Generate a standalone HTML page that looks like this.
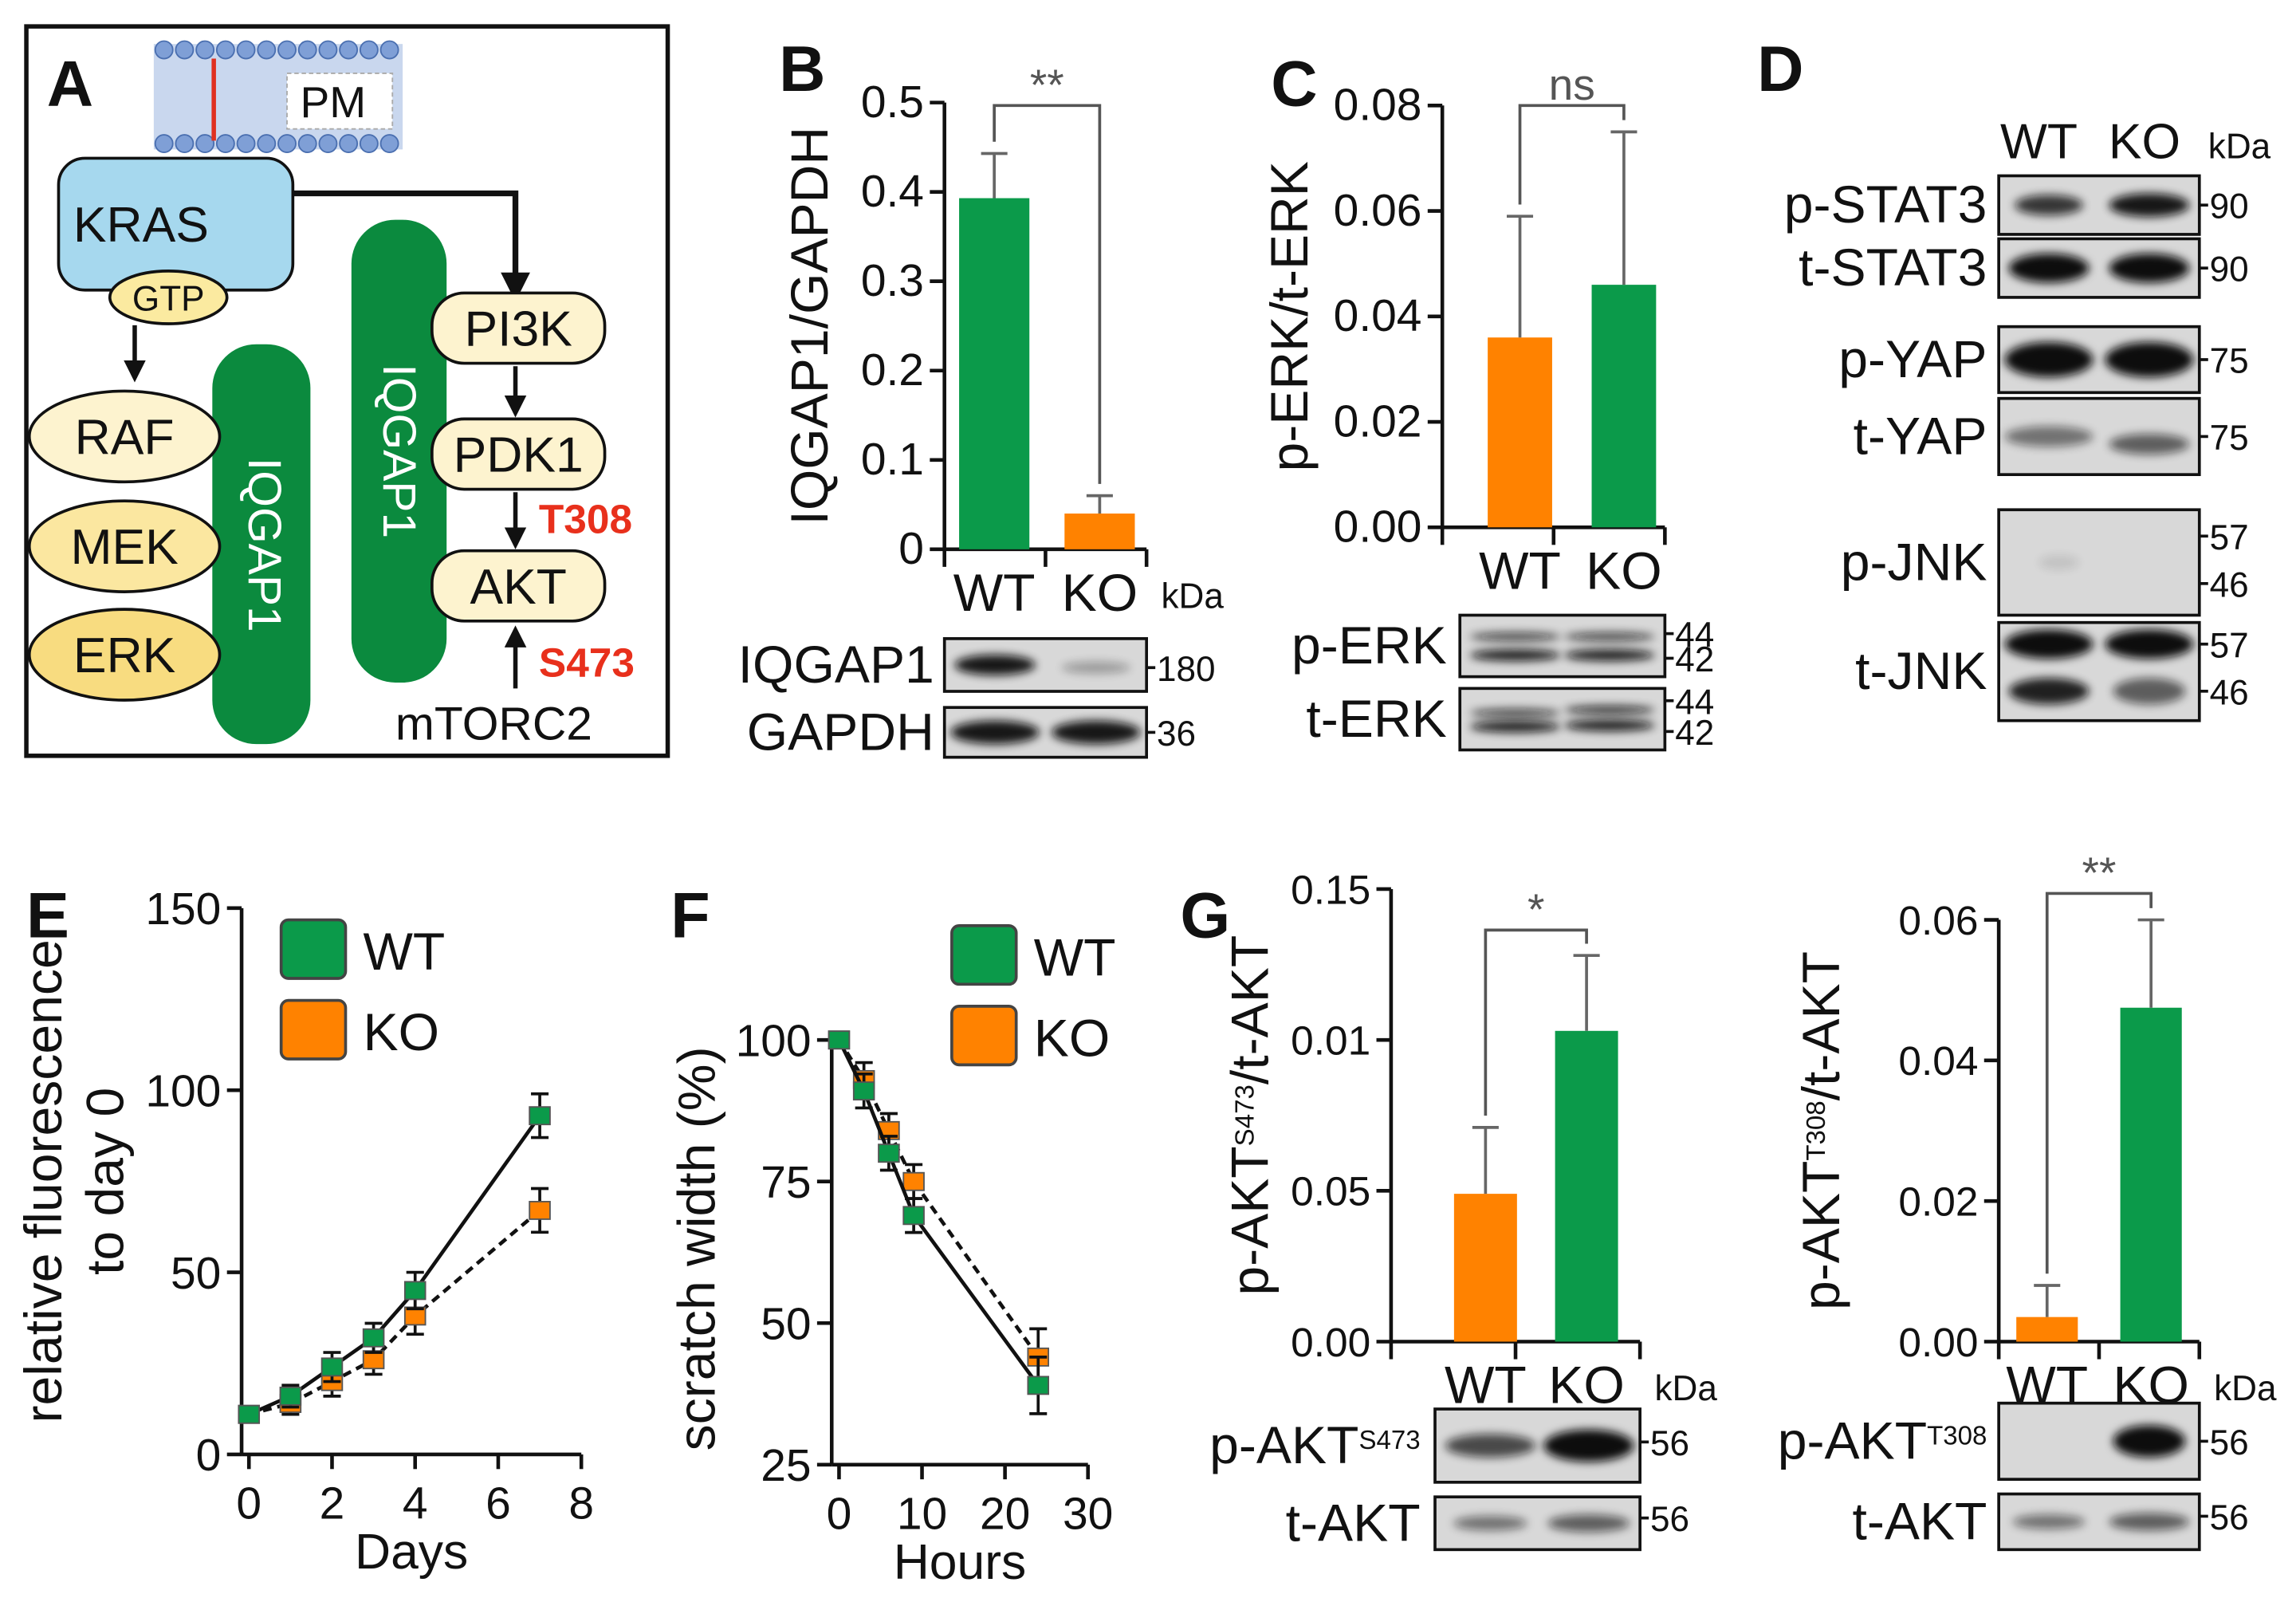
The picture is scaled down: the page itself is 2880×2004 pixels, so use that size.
<!DOCTYPE html>
<html><head><meta charset="utf-8"><style>
html,body{margin:0;padding:0;background:#fff}
svg{display:block}
text{font-family:"Liberation Sans",Arial,sans-serif;fill:#111}
</style></head><body>
<svg id="fig" width="2880" height="2004" viewBox="0 0 1568 1091" xmlns="http://www.w3.org/2000/svg">
<defs>
<filter id="blur" x="-20%" y="-100%" width="140%" height="300%"><feGaussianBlur stdDeviation="3"/></filter>
<marker id="ah" viewBox="0 0 10 10" refX="8" refY="5" markerWidth="5" markerHeight="5" orient="auto"><path d="M0,0L10,5L0,10z" fill="#111"/></marker>
</defs>

<!-- Panel A -->
<g>
<rect x="18" y="18" width="438" height="498" fill="#fff" stroke="#111" stroke-width="3"/>
<text x="32" y="72" font-size="44" font-weight="bold">A</text>
<rect x="105" y="30" width="170" height="72" fill="#c9d7ee"/>
<g fill="#7f9fd6" stroke="#4a6fb0" stroke-width="1">
<circle cx="112" cy="34" r="6"/><circle cx="126" cy="34" r="6"/><circle cx="140" cy="34" r="6"/><circle cx="154" cy="34" r="6"/><circle cx="168" cy="34" r="6"/><circle cx="182" cy="34" r="6"/><circle cx="196" cy="34" r="6"/><circle cx="210" cy="34" r="6"/><circle cx="224" cy="34" r="6"/><circle cx="238" cy="34" r="6"/><circle cx="252" cy="34" r="6"/><circle cx="266" cy="34" r="6"/>
<circle cx="112" cy="98" r="6"/><circle cx="126" cy="98" r="6"/><circle cx="140" cy="98" r="6"/><circle cx="154" cy="98" r="6"/><circle cx="168" cy="98" r="6"/><circle cx="182" cy="98" r="6"/><circle cx="196" cy="98" r="6"/><circle cx="210" cy="98" r="6"/><circle cx="224" cy="98" r="6"/><circle cx="238" cy="98" r="6"/><circle cx="252" cy="98" r="6"/><circle cx="266" cy="98" r="6"/>
</g>
<line x1="146" y1="40" x2="146" y2="96" stroke="#e03020" stroke-width="3"/>
<rect x="196" y="50" width="72" height="38" fill="#fff" stroke="#aaa" stroke-dasharray="3,2"/>
<text x="205" y="80" font-size="30">PM</text>
<rect x="40" y="108" width="160" height="90" rx="18" fill="#a6d8ee" stroke="#111" stroke-width="2"/>
<text x="50" y="165" font-size="34">KRAS</text>
<ellipse cx="115" cy="203" rx="40" ry="18" fill="#fbeaa0" stroke="#111" stroke-width="2"/>
<text x="115" y="212" font-size="24" text-anchor="middle">GTP</text>
<path d="M200,132 H352 V202" fill="none" stroke="#111" stroke-width="4" marker-end="url(#ah)"/>
<line x1="92" y1="222" x2="92" y2="258" stroke="#111" stroke-width="3" marker-end="url(#ah)"/>
<rect x="145" y="235" width="67" height="273" rx="30" fill="#0b8a3e"/>
<text transform="translate(170,372) rotate(90)" font-size="32" text-anchor="middle" style="fill:#fff">IQGAP1</text>
<rect x="240" y="150" width="65" height="316" rx="30" fill="#0b8a3e"/>
<text transform="translate(262,308) rotate(90)" font-size="32" text-anchor="middle" style="fill:#fff">IQGAP1</text>
<g stroke="#111" stroke-width="2" fill="#fdf3cf">
<ellipse cx="85" cy="298" rx="65" ry="31"/><ellipse cx="85" cy="373" rx="65" ry="31" fill="#fbe7a0"/><ellipse cx="85" cy="447" rx="65" ry="31" fill="#f8dc80"/>
<rect x="295" y="200" width="118" height="48" rx="22"/><rect x="295" y="286" width="118" height="48" rx="22"/><rect x="295" y="376" width="118" height="48" rx="22"/>
</g>
<text x="85" y="310" font-size="34" text-anchor="middle">RAF</text>
<text x="85" y="385" font-size="34" text-anchor="middle">MEK</text>
<text x="85" y="459" font-size="34" text-anchor="middle">ERK</text>
<text x="354" y="236" font-size="34" text-anchor="middle">PI3K</text>
<text x="354" y="322" font-size="34" text-anchor="middle">PDK1</text>
<text x="354" y="412" font-size="34" text-anchor="middle">AKT</text>
<line x1="352" y1="250" x2="352" y2="282" stroke="#111" stroke-width="3" marker-end="url(#ah)"/>
<line x1="352" y1="336" x2="352" y2="372" stroke="#111" stroke-width="3" marker-end="url(#ah)"/>
<line x1="352" y1="470" x2="352" y2="430" stroke="#111" stroke-width="3" marker-end="url(#ah)"/>
<text x="368" y="364" font-size="28" font-weight="bold" style="fill:#e8301c">T308</text>
<text x="368" y="462" font-size="28" font-weight="bold" style="fill:#e8301c">S473</text>
<text x="270" y="505" font-size="32">mTORC2</text>
</g>
<g id="charts"></g>
</svg>
<script>
// ---- data ----
const bCategories = ["WT","KO"];
const bValues = [0.393, 0.040];
const bErrors = [0.443, 0.060];
const bTicks = ["0","0.1","0.2","0.3","0.4","0.5"];
const cValues = [0.036, 0.046];
const cErrors = [0.059, 0.075];
const cTicks = ["0.00","0.02","0.04","0.06","0.08"];
const eDays = [0,1,2,3,4,7];
const eWT = [11,16,24,32,45,93];
const eKO = [11,14,20,26,38,67];
const eErr = [2,3,4,4,5,6];
const fHours = [0,3,6,9,24];
const fWT = [100,91,80,69,39];
const fKO = [100,93,84,75,44];
const fErr = [1,3,3,3,5];
const g1Values = [0.049, 0.103];
const g1Errors = [0.071, 0.128];
const g1Ticks = ["0.00","0.05","0.01","0.15"];
const g2Values = [0.0035, 0.0475];
const g2Errors = [0.008, 0.060];
const g2Ticks = ["0.00","0.02","0.04","0.06"];

const GREEN="#0b9a4a", ORANGE="#ff8200";
const NS="http://www.w3.org/2000/svg";
const root=document.getElementById('charts');
function el(tag,attrs,parent,txt){const e=document.createElementNS(NS,tag);for(const k in attrs)e.setAttribute(k,attrs[k]);if(txt!==undefined)e.textContent=txt;(parent||root).appendChild(e);return e;}
function lin(d0,d1,r0,r1){return v=>r0+(v-d0)*(r1-r0)/(d1-d0);}

function barPanel(o){
  const g=el('g',{});
  
  
  const y=lin(0,o.max,o.y0,o.y1);
  el('line',{x1:o.ax,y1:o.y0,x2:o.ax,y2:o.y1,stroke:'#111','stroke-width':2.5},g);
  o.ticks.forEach((t,i)=>{const v=o.max*i/(o.ticks.length-1);const yy=y(v);
    el('line',{x1:o.ax-10,y1:yy,x2:o.ax,y2:yy,stroke:'#111','stroke-width':2.5},g);
    const tx=el('text',{x:o.ax-14,y:yy+10,'font-size':o.tf||31,'text-anchor':'end'},g,t);
    
    });
  el('line',{x1:o.ax,y1:o.y0,x2:o.xe,y2:o.y0,stroke:'#111','stroke-width':2.5},g);
  [o.ax,(o.ax+o.xe)/2,o.xe].forEach(xx=>el('line',{x1:xx,y1:o.y0,x2:xx,y2:o.y0+12,stroke:'#111','stroke-width':2.5},g));
  o.vals.forEach((v,i)=>{
    const bx=o.bx[i],w=o.bw;
    const r=el('rect',{x:bx,y:y(v),width:w,height:o.y0-y(v),fill:o.cols[i]},g);
    
    
    const cx=bx+w/2;
    el('line',{x1:cx,y1:y(v),x2:cx,y2:y(o.errs[i]),stroke:'#666','stroke-width':2},g);
    el('line',{x1:cx-9,y1:y(o.errs[i]),x2:cx+9,y2:y(o.errs[i]),stroke:'#666','stroke-width':2},g);
  });
  const c0=o.bx[0]+o.bw/2,c1=o.bx[1]+o.bw/2;
  el('path',{d:`M${c0},${y(o.errs[0])-8} V${o.sy} H${c1} V${y(o.errs[1])-8}`,fill:'none',stroke:'#555','stroke-width':2},g);
  el('text',{x:(c0+c1)/2,y:o.sy-4,'font-size':30,'text-anchor':'middle',style:'fill:#555'},g,o.sig);
  const lab=el('text',{transform:`translate(${o.lx},${(o.y0+o.y1)/2}) rotate(-90)`,'font-size':36,'text-anchor':'middle'},g);
  
  
  lab.innerHTML=o.label;
  el('text',{x:o.bx[0]+o.bw/2,y:o.y0+42,'font-size':36,'text-anchor':'middle'},g,'WT');
  el('text',{x:o.bx[1]+o.bw/2,y:o.y0+42,'font-size':36,'text-anchor':'middle'},g,'KO');
  if(o.kda) el('text',{x:o.xe+10,y:o.y0+40,'font-size':24},g,'kDa');
}
barPanel({name:'chart-b',ax:645,xe:783,y0:375,y1:70,max:0.5,ticks:bTicks,vals:bValues,errs:bErrors,bx:[655,727],bw:48,cols:[GREEN,ORANGE],sy:72,sig:'**',lx:565,label:'IQGAP1/GAPDH',kda:true});
barPanel({name:'chart-c',ax:985,xe:1137,y0:360,y1:72,max:0.08,ticks:cTicks,vals:cValues,errs:cErrors,bx:[1016,1087],bw:44,cols:[ORANGE,GREEN],sy:72,sig:'ns',lx:893,label:'p-ERK/t-ERK',kda:false});
barPanel({name:'chart-g1',ax:950,xe:1120,y0:916,y1:607,max:0.15,ticks:g1Ticks,tf:28,vals:g1Values,errs:g1Errors,bx:[993,1062],bw:43,cols:[ORANGE,GREEN],sy:635,sig:'*',lx:866,label:'p-AKT<tspan baseline-shift="super" font-size="18">S473</tspan>/t-AKT',kda:true});
barPanel({name:'chart-g2',ax:1365,xe:1502,y0:916,y1:628,max:0.06,ticks:g2Ticks,tf:28,vals:g2Values,errs:g2Errors,bx:[1377,1448],bw:42,cols:[ORANGE,GREEN],sy:610,sig:'**',lx:1256,label:'p-AKT<tspan baseline-shift="super" font-size="18">T308</tspan>/t-AKT',kda:true});

el('text',{x:868,y:72,'font-size':44,'font-weight':'bold'},root,'C');
el('text',{x:532,y:62,'font-size':44,'font-weight':'bold'},root,'B');
el('text',{x:1200,y:62,'font-size':44,'font-weight':'bold'},root,'D');
el('text',{x:18,y:640,'font-size':44,'font-weight':'bold'},root,'E');
el('text',{x:458,y:640,'font-size':44,'font-weight':'bold'},root,'F');
el('text',{x:806,y:640,'font-size':44,'font-weight':'bold'},root,'G');

// blots
function blot(name,label,x,y,w,h,bands,tags,lx){
  const g=el('g',{});
  
  
  el('rect',{x:x,y:y,width:w,height:h,fill:'#d8d8d8',stroke:'#111','stroke-width':2},g);
  bands.forEach(b=>el('ellipse',{cx:x+w*b[0],cy:y+h*b[1],rx:w*b[2],ry:b[3],fill:'#111',opacity:b[4],filter:'url(#blur)'},g));
  const t=el('text',{x:lx,y:y+h/2+12,'font-size':36,'text-anchor':'end'},g);
  t.innerHTML=label;
  tags.forEach(tg=>{el('line',{x1:x+w,y1:y+h*tg[1],x2:x+w+6,y2:y+h*tg[1],stroke:'#111','stroke-width':2},g);
    el('text',{x:x+w+7,y:y+h*tg[1]+9,'font-size':24},g,tg[0]);});
}
blot('blot-iqgap1','IQGAP1',645,436,138,36,[[0.25,0.5,0.2,7,0.95],[0.75,0.55,0.17,4,0.3]],[['180',0.55]],638);
blot('blot-gapdh','GAPDH',645,483,138,34,[[0.25,0.5,0.22,8,0.95],[0.75,0.5,0.22,8,0.95]],[['36',0.5]],638);
blot('blot-perk','p-ERK',997,420,140,42,[[0.27,0.35,0.22,3,0.7],[0.27,0.65,0.22,4,0.9],[0.73,0.35,0.22,3,0.7],[0.73,0.65,0.22,4,0.9]],[['44',0.3],['42',0.7]],988);
blot('blot-terk','t-ERK',997,470,140,42,[[0.27,0.4,0.22,3,0.7],[0.27,0.62,0.22,4,0.9],[0.73,0.35,0.22,3,0.8],[0.73,0.6,0.22,4,0.9]],[['44',0.2],['42',0.7]],988);
el('text',{x:1366,y:108,'font-size':34},root,'WT');
el('text',{x:1440,y:108,'font-size':34},root,'KO');
el('text',{x:1508,y:108,'font-size':24},root,'kDa');
blot('blot-pstat3','p-STAT3',1365,120,137,40,[[0.25,0.5,0.17,7,0.8],[0.75,0.5,0.2,8,0.95]],[['90',0.5]],1357);
blot('blot-tstat3','t-STAT3',1365,163,137,40,[[0.25,0.5,0.2,10,1],[0.75,0.5,0.2,10,1]],[['90',0.5]],1357);
blot('blot-pyap','p-YAP',1365,223,137,45,[[0.25,0.5,0.22,12,1],[0.75,0.5,0.22,12,1]],[['75',0.5]],1357);
blot('blot-tyap','t-YAP',1365,272,137,52,[[0.25,0.5,0.22,7,0.5],[0.75,0.6,0.2,7,0.6]],[['75',0.5]],1357);
blot('blot-pjnk','p-JNK',1365,348,137,72,[[0.3,0.5,0.1,5,0.1]],[['57',0.25],['46',0.7]],1357);
blot('blot-tjnk','t-JNK',1365,425,137,67,[[0.25,0.22,0.22,10,1],[0.75,0.22,0.22,10,1],[0.25,0.7,0.2,9,0.9],[0.75,0.7,0.18,9,0.6]],[['57',0.22],['46',0.7]],1357);
blot('blot-pakt473','p-AKT<tspan baseline-shift="super" font-size="18">S473</tspan>',980,962,140,50,[[0.27,0.5,0.22,8,0.7],[0.75,0.5,0.22,11,1]],[['56',0.45]],970);
blot('blot-takt1','t-AKT',980,1022,140,36,[[0.27,0.5,0.18,5,0.5],[0.75,0.5,0.2,6,0.6]],[['56',0.4]],970);
blot('blot-pakt308','p-AKT<tspan baseline-shift="super" font-size="18">T308</tspan>',1365,958,137,52,[[0.75,0.5,0.18,11,1]],[['56',0.5]],1357);
blot('blot-takt2','t-AKT',1365,1020,137,38,[[0.25,0.5,0.18,5,0.5],[0.75,0.5,0.2,6,0.6]],[['56',0.4]],1357);

// line charts
function linePanel(o){
  const g=el('g',{});
  
  
  const x=lin(o.xmin,o.xmax,o.x0,o.x1), y=lin(o.ymin,o.ymax,o.y0,o.y1);
  el('line',{x1:o.ax,y1:o.y0,x2:o.ax,y2:o.y1,stroke:'#111','stroke-width':2.5},g);
  el('line',{x1:o.ax,y1:o.y0,x2:o.x1,y2:o.y0,stroke:'#111','stroke-width':2.5},g);
  o.yt.forEach(t=>{el('line',{x1:o.ax-10,y1:y(t),x2:o.ax,y2:y(t),stroke:'#111','stroke-width':2.5},g);
    el('text',{x:o.ax-14,y:y(t)+11,'font-size':31,'text-anchor':'end'},g,String(t));});
  o.xt.forEach(t=>{el('line',{x1:x(t),y1:o.y0,x2:x(t),y2:o.y0+10,stroke:'#111','stroke-width':2.5},g);
    el('text',{x:x(t),y:o.y0+44,'font-size':31,'text-anchor':'middle'},g,String(t));});
  [[o.ko,ORANGE,'6,4','series-ko'],[o.wt,GREEN,'','series-wt']].forEach(s=>{
    const p=el('polyline',{points:o.xs.map((v,i)=>x(v)+','+y(s[0][i])).join(' '),fill:'none',stroke:'#111','stroke-width':2.5,'stroke-dasharray':s[2]},g);
    
    
    o.xs.forEach((v,i)=>{const cx=x(v),cy=y(s[0][i]);
      el('path',{d:`M${cx},${y(s[0][i]+o.err[i])} V${y(s[0][i]-o.err[i])} M${cx-6},${y(s[0][i]+o.err[i])} H${cx+6} M${cx-6},${y(s[0][i]-o.err[i])} H${cx+6}`,stroke:'#111','stroke-width':2,fill:'none'},g);
      const m=el('rect',{x:cx-7,y:cy-6,width:14,height:12,fill:s[1],stroke:'#555','stroke-width':1},g);
      
      });
  });
  el('text',{x:(o.ax+o.x1)/2,y:o.y0+78,'font-size':34,'text-anchor':'middle'},g,o.xl);
  o.yl.forEach((t,i)=>el('text',{transform:`translate(${o.lx+i*42},${(o.y0+o.y1)/2}) rotate(-90)`,'font-size':36,'text-anchor':'middle'},g,t));
  [[GREEN,'WT',0],[ORANGE,'KO',55]].forEach(l=>{
    const r=el('rect',{x:o.lgx,y:o.lgy+l[2],width:44,height:40,rx:5,fill:l[0],stroke:'#444','stroke-width':2},g);
    
    
    el('text',{x:o.lgx+56,y:o.lgy+l[2]+34,'font-size':36},g,l[1]);});
}
linePanel({name:'chart-e',ax:165,x0:170,x1:397,xmin:0,xmax:8,y0:993,y1:620,ymin:0,ymax:150,xs:eDays,wt:eWT,ko:eKO,err:eErr,yt:[0,50,100,150],xt:[0,2,4,6,8],xl:'Days',yl:['relative fluorescence','to day 0'],lx:42,lgx:192,lgy:628});
linePanel({name:'chart-f',ax:568,x0:573,x1:743,xmin:0,xmax:30,y0:1000,y1:705,ymin:25,ymax:101.3,xs:fHours,wt:fWT,ko:fKO,err:fErr,yt:[25,50,75,100],xt:[0,10,20,30],xl:'Hours',yl:['scratch width (%)'],lx:488,lgx:650,lgy:632});
</script>
</body></html>
